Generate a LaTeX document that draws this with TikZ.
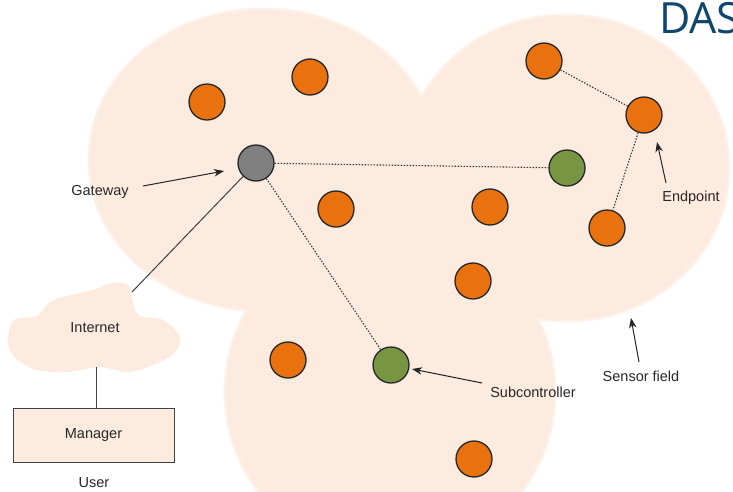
\documentclass[tikz,border=0pt]{standalone}
\usepackage{fontspec}
\setmainfont{Liberation Sans}
\newfontfamily\dasfont{Open Sans}
\usetikzlibrary{arrows.meta}
\definecolor{peach}{RGB}{252,235,222}
\definecolor{peachsoft}{RGB}{253,242,234}
\definecolor{orangenode}{RGB}{233,114,14}
\definecolor{greennode}{RGB}{120,150,65}
\definecolor{graynode}{RGB}{128,128,128}
\definecolor{dasblue}{RGB}{14,70,110}
\definecolor{labelgray}{RGB}{40,40,40}
\tikzset{
  sensor/.style={circle, draw=black!85, line width=1.3pt, minimum size=36pt, inner sep=0pt},
  endnode/.style={sensor, fill=orangenode},
  subnode/.style={sensor, fill=greennode},
  gwnode/.style={sensor, fill=graynode},
  lbl/.style={font=\fontsize{14.5}{17}\selectfont, text=labelgray, inner sep=0pt},
  dotline/.style={draw=black!80, line width=1.1pt, dash pattern=on 1.4pt off 1.6pt},
  solidline/.style={draw=black!75, line width=1pt},
  arr/.style={draw=black!85, line width=1pt, -{Stealth[length=10pt,width=7.5pt,inset=3pt]}},
  field/.style={fill=peach, draw=peachsoft, line width=5pt}
}
\begin{document}
\begin{tikzpicture}[x=1pt,y=-1pt]
\useasboundingbox (0,0) rectangle (733,491);
\clip (0,0) rectangle (733,491);
\fill[white] (0,0) rectangle (733,491);
% sensor field
\draw[field] (263,160) ellipse [x radius=173, y radius=150];
\draw[field] (566,168) ellipse [x radius=162, y radius=152];
\draw[field] (390,392) circle [radius=164];
\fill[peach] (263,160) ellipse [x radius=173, y radius=150];
\fill[peach] (566,168) ellipse [x radius=162, y radius=152];
\fill[peach] (390,392) circle [radius=164];
% cloud
\fill[peach] plot[smooth cycle, tension=0.6] coordinates {
 (8,338) (14,320) (37,316) (50,302) (67,296) (93,290) (113,283) (129,286)
 (133,303) (140,316) (163,320) (180,337) (173,354) (150,366) (127,372)
 (100,367) (67,372) (37,370) (18,360) (9,348)};
\node[lbl] (inet) at (95,328) {Internet};
\coordinate (cin) at (132,292);
\coordinate (cbot) at (96,367);
% manager
\node[draw=black!75, line width=1pt, fill=peach, minimum width=161pt, minimum height=54pt,
      font=\fontsize{14.5}{17}\selectfont, text=labelgray] (mgr) at (93.5,435) {Manager};
\node[lbl] (user) at (94,483) {User};
% nodes
\node[gwnode] (gw) at (256,163) {};
\node[endnode] (e1) at (207,102) {};
\node[endnode] (e2) at (310,77) {};
\node[endnode] (e3) at (336,209) {};
\node[endnode] (e4) at (490,207) {};
\node[endnode] (e5) at (473,281) {};
\node[endnode] (e6) at (544,61) {};
\node[endnode] (e7) at (644,115) {};
\node[endnode] (e8) at (607,228) {};
\node[endnode] (e9) at (288,360) {};
\node[endnode] (e10) at (474,459) {};
\node[subnode] (s1) at (567,168) {};
\node[subnode] (s2) at (391,365) {};
% links
\draw[dotline] (gw) -- (s1);
\draw[dotline] (gw) -- (s2);
\draw[dotline] (e6) -- (e7);
\draw[dotline] (e7) -- (e8);
\draw[solidline] (gw) -- (cin);
\draw[solidline] (cbot) -- (mgr.north -| cbot);
% labels
\node[lbl] (gwl) at (100,192) {Gateway};
\coordinate (gwa) at (143,186);
\coordinate (gwt) at (224,171);
\draw[arr] (gwa) -- (gwt);
\node[lbl] (scl) at (533,392) {Subcontroller};
\coordinate (sca) at (482,383);
\coordinate (sct) at (412,369);
\draw[arr] (sca) -- (sct);
\node[lbl] (sfl) at (641,376) {Sensor field};
\coordinate (sfa) at (639,362);
\coordinate (sft) at (631,318);
\draw[arr] (sfa) -- (sft);
\node[lbl] (epl) at (691,198) {Endpoint};
\coordinate (epa) at (666,183);
\coordinate (ept) at (657,142);
\draw[arr] (epa) -- (ept);
% title
\node[anchor=base west, inner sep=0pt, text=dasblue, font=\dasfont\fontsize{43}{50}\selectfont] (das) at (659,33) {DAS};
\end{tikzpicture}
\end{document}
